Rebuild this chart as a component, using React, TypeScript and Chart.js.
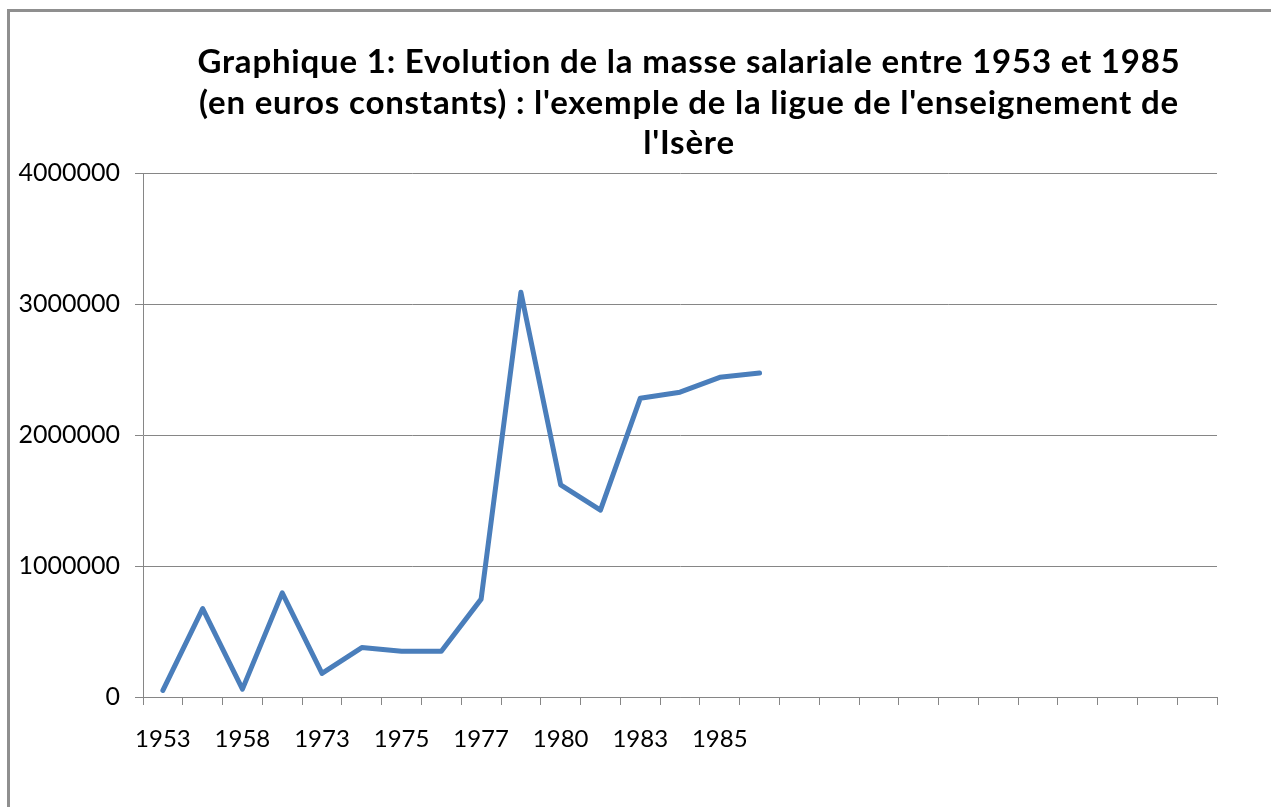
import React, { useEffect, useRef } from "react";
import { Chart, registerables } from "chart.js";

Chart.register(...registerables);

const categories: string[] = [
  "1953", "1956", "1958", "1962", "1973", "1974", "1975", "1976",
  "1977", "1978", "1980", "1981", "1983", "1984", "1985", "1986",
  "", "", "", "", "", "", "", "", "", "", "",
];

const masseSalariale: (number | null)[] = [
  50000, 675000, 60000, 795000, 180000, 377000, 350000, 350000,
  747000, 3090000, 1620000, 1427000, 2280000, 2327000, 2440000, 2473000,
];

const titleLines: string[] = [
  "Graphique 1: Evolution de la masse salariale entre 1953 et 1985",
  "(en euros constants) : l'exemple de la ligue de l'enseignement de",
  "l'Isère",
];

const yTicks: number[] = [0, 1000000, 2000000, 3000000, 4000000];

const GRID = "#868686";
const LINE = "#4A7EBB";

const titlePlugin = {
  id: "excelTitle",
  afterDraw(chart: any) {
    const ctx = chart.ctx;
    ctx.save();
    ctx.fillStyle = "#000000";
    ctx.font = "bold 33px Lato";
    ctx.letterSpacing = "0.8px";
    ctx.textAlign = "center";
    ctx.textBaseline = "alphabetic";
    const cx = 689;
    titleLines.forEach((line, i) => {
      ctx.fillText(line, cx, 73 + i * 40.5);
    });
    ctx.restore();
  },
};

export default function App() {
  const canvasRef = useRef<HTMLCanvasElement | null>(null);

  useEffect(() => {
    document.body.style.margin = "0";
    const canvas = canvasRef.current;
    if (!canvas) return;
    const chart = new Chart(canvas, {
      type: "line",
      data: {
        labels: categories,
        datasets: [
          {
            data: masseSalariale,
            borderColor: LINE,
            borderWidth: 5,
            pointRadius: 0,
            pointHoverRadius: 0,
            tension: 0,
            fill: false,
            borderJoinStyle: "round",
            borderCapStyle: "round",
          },
        ],
      },
      options: {
        responsive: false,
        animation: false,
        devicePixelRatio: 1,
        layout: {
          padding: { top: 173, right: 54, bottom: 0, left: 0 },
        },
        plugins: {
          legend: { display: false },
          tooltip: { enabled: false },
          title: { display: false },
        },
        scales: {
          x: {
            type: "category",
            offset: true,
            grid: {
              offset: true,
              drawOnChartArea: false,
              drawTicks: true,
              tickLength: 8,
              color: GRID,
              lineWidth: 1,
            },
            border: { display: true, color: GRID, width: 1 },
            ticks: {
              autoSkip: false,
              maxRotation: 0,
              minRotation: 0,
              padding: 20,
              color: "#000000",
              font: { family: "Lato", size: 24 },
              callback: (_v: any, i: number) => (i % 2 === 0 ? categories[i] : ""),
            },
            afterFit: (scale: any) => {
              scale.height = 110;
            },
          },
          y: {
            min: 0,
            max: 4000000,
            afterBuildTicks: (scale: any) => {
              scale.ticks = yTicks.map((v) => ({ value: v }));
            },
            grid: {
              drawOnChartArea: true,
              drawTicks: true,
              tickLength: 8,
              color: GRID,
              lineWidth: 1,
            },
            border: { display: true, color: GRID, width: 1 },
            ticks: {
              padding: 15,
              color: "#000000",
              font: { family: "Lato", size: 25 },
              callback: (v: any) => String(v),
            },
            afterFit: (scale: any) => {
              scale.width = 143;
            },
          },
        },
      },
      plugins: [titlePlugin],
    });
    return () => chart.destroy();
  }, []);

  return (
    <div style={{ position: "fixed", left: 0, top: 0, width: 1271, height: 807, background: "#ffffff", overflow: "hidden" }}>
      <div
        style={{
          position: "absolute",
          left: 7,
          top: 9,
          width: 1400,
          height: 900,
          borderLeft: "3px solid #8f8f8f",
          borderTop: "3px solid #8f8f8f",
        }}
      />
      <canvas ref={canvasRef} width={1271} height={807} style={{ position: "absolute", left: 0, top: 0, width: 1271, height: 807 }} />
    </div>
  );
}
